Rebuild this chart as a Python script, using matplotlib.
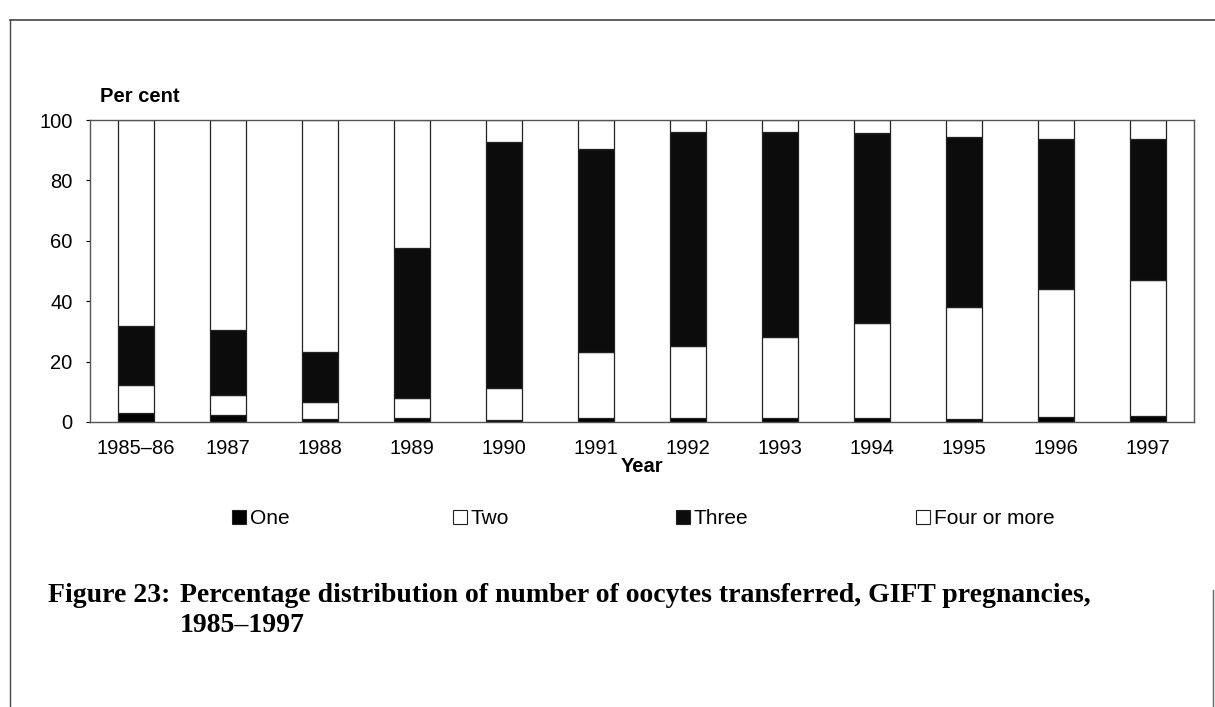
import matplotlib
matplotlib.use("Agg")
import matplotlib.pyplot as plt
import numpy as np
from matplotlib.patches import Patch
from matplotlib.lines import Line2D

years = ["1985\u201386", "1987", "1988", "1989", "1990", "1991", "1992",
         "1993", "1994", "1995", "1996", "1997"]
one = [3.0, 2.2, 0.9, 1.4, 0.8, 1.4, 1.3, 1.3, 1.4, 1.0, 1.5, 2.1]
two = [9.4, 6.8, 5.6, 6.7, 10.6, 21.8, 23.8, 27.0, 31.5, 37.1, 42.7, 44.9]
three = [19.3, 21.6, 16.7, 49.4, 81.2, 67.2, 71.0, 67.8, 62.7, 56.4, 49.4, 46.8]
four = [68.3, 69.4, 76.8, 42.5, 7.4, 9.6, 3.9, 3.9, 4.4, 5.5, 6.4, 6.2]
series_names = ["One", "Two", "Three", "Four or more"]

W, H = 1215, 707
fig = plt.figure(figsize=(W / 100, H / 100), dpi=100)
plt.rcParams['font.family'] = ['Liberation Sans', 'DejaVu Sans']
FS = 14.5

ax = fig.add_axes([90 / W, 1 - 422 / H, (1194 - 90) / W, (422 - 120) / H])

x = np.arange(len(years))
colors = ["#000000", "#ffffff", "#0c0c0c", "#ffffff"]
bottom = np.zeros(len(years))
for vals, c, name in zip([one, two, three, four], colors, series_names):
    ax.bar(x, vals, width=0.4, bottom=bottom, color=c, edgecolor="#222222",
           linewidth=0.9, label=name)
    bottom += np.array(vals)

ax.set_xlim(-0.5, len(years) - 0.5)
ax.set_ylim(0, 100)
ax.set_yticks([0, 20, 40, 60, 80, 100])
ax.set_xticks(x)
ax.set_xticklabels(years)
ax.tick_params(axis="y", length=3, width=0.8, pad=9.5, labelsize=FS)
ax.tick_params(axis="x", length=0, pad=12, labelsize=FS)
for s in ax.spines.values():
    s.set_color("#555555")
    s.set_linewidth(1.0)

fig.text(100 / W, 1 - 97 / H, "Per cent", fontsize=FS, fontweight="bold",
         ha="left", va="center")
fig.text(642 / W, 1 - 467 / H, "Year", fontsize=FS, fontweight="bold",
         ha="center", va="center")

# legend items, each placed individually
leg_x = [232, 453, 676, 916]
for name, c, lx in zip(series_names, colors, leg_x):
    h = Patch(facecolor=c, edgecolor="#222222", linewidth=0.8)
    fig.legend([h], [name], loc="center left",
               bbox_to_anchor=(lx / W, 1 - 519 / H), frameon=False,
               fontsize=15, handlelength=0.65, handleheight=0.65,
               handletextpad=0.2, borderpad=0, borderaxespad=0)

# caption
cap_font = ['Liberation Serif', 'DejaVu Serif']
fig.text(48 / W, 1 - 596 / H, "Figure 23:", fontsize=20, fontweight="bold",
         family=cap_font, ha="left", va="center")
fig.text(180 / W, 1 - 596 / H,
         "Percentage distribution of number of oocytes transferred, GIFT pregnancies,",
         fontsize=20, fontweight="bold", family=cap_font, ha="left", va="center")
fig.text(180 / W, 1 - 626 / H, "1985\u20131997", fontsize=20, fontweight="bold",
         family=cap_font, ha="left", va="center")

# page frame lines
fig.add_artist(Line2D([10 / W, 1.0], [1 - 20 / H, 1 - 20 / H], color="#444444",
                      linewidth=1.2, transform=fig.transFigure))
fig.add_artist(Line2D([10 / W, 10 / W], [1 - 20 / H, 0], color="#444444",
                      linewidth=1.0, transform=fig.transFigure))
fig.add_artist(Line2D([1213 / W, 1213 / W], [1 - 590 / H, 0], color="#666666",
                      linewidth=1.0, transform=fig.transFigure))

fig.savefig("out.png", dpi=100, facecolor="white")
